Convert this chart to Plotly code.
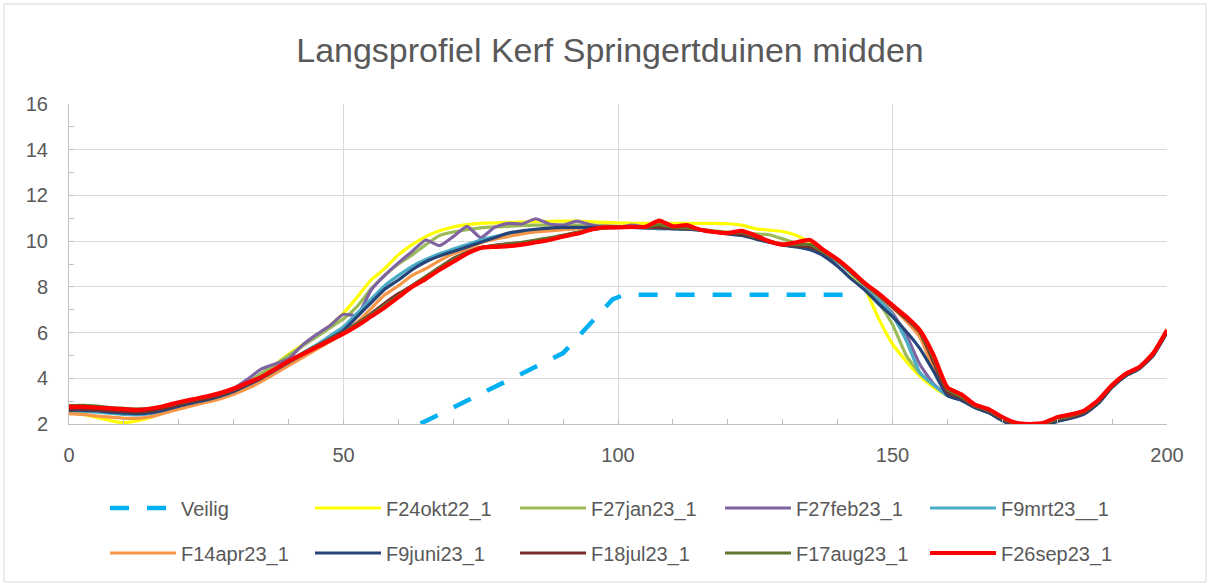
import plotly.graph_objects as go

# distance along profile (m)
AFSTAND = [0, 2.5, 5, 7.5, 10, 12.5, 15, 17.5, 20, 22.5, 25, 27.5, 30, 32.5, 35, 37.5,
           40, 42.5, 45, 47.5, 50, 52.5, 55, 57.5, 60, 62.5, 65, 67.5, 70, 72.5, 75, 77.5,
           80, 82.5, 85, 87.5, 90, 92.5, 95, 97.5, 100, 102.5, 105, 107.5, 110, 112.5, 115,
           117.5, 120, 122.5, 125, 127.5, 130, 132.5, 135, 137.5, 140, 142.5, 145, 147.5,
           150, 152.5, 155, 157.5, 160, 162.5, 165, 167.5, 170, 172.5, 175, 177.5, 180,
           182.5, 185, 187.5, 190, 192.5, 195, 197.5, 200]

VEILIG_X = [58, 90, 99, 101, 144]
VEILIG_Y = [1.3, 5.1, 7.45, 7.65, 7.65]

F24OKT22 = [2.50, 2.42, 2.30, 2.15, 2.05,
            2.15, 2.30, 2.50, 2.68, 2.85, 3.00, 3.18, 3.40,
            3.75, 4.15, 4.60, 5.05, 5.45, 5.85, 6.30, 6.85,
            7.55, 8.30, 8.80, 9.40, 9.85, 10.20, 10.45, 10.62,
            10.72, 10.78, 10.80, 10.82, 10.83, 10.85, 10.87, 10.88,
            10.88, 10.85, 10.82, 10.80, 10.78, 10.78, 10.78, 10.78,
            10.78, 10.78, 10.78, 10.76, 10.70, 10.55, 10.48, 10.42,
            10.25, 9.95, 9.60, 9.20, 8.55, 7.90, 6.60, 5.50,
            4.75, 4.10, 3.60, 3.25, 3.05, 2.72, 2.50, 2.15,
            1.90, 1.85, 1.90, 2.12, 2.28, 2.48, 2.95, 3.62,
            4.12, 4.45, 5.05, 6.05]

F27JAN23 = [2.80, 2.80, 2.75, 2.68, 2.60,
            2.55, 2.58, 2.70, 2.85, 3.00, 3.12, 3.28, 3.50,
            3.82, 4.20, 4.60, 5.00, 5.40, 5.80, 6.20, 6.60,
            7.15, 7.90, 8.50, 9.00, 9.40, 9.85, 10.25, 10.40,
            10.50, 10.58, 10.62, 10.65, 10.68, 10.70, 10.70, 10.70,
            10.70, 10.70, 10.68, 10.65, 10.62, 10.60, 10.58, 10.55,
            10.55, 10.52, 10.45, 10.40, 10.38, 10.32, 10.28, 10.10,
            9.90, 9.75, 9.45, 9.10, 8.60, 8.00, 7.30, 6.35,
            5.00, 4.20, 3.70, 3.25, 3.05, 2.72, 2.52, 2.18,
            1.92, 1.88, 1.92, 2.15, 2.30, 2.50, 2.96, 3.64,
            4.14, 4.46, 5.06, 6.06]

F27FEB23 = [2.62, 2.60, 2.55, 2.50, 2.45,
            2.45, 2.50, 2.62, 2.78, 2.92, 3.05, 3.22, 3.55,
            3.95, 4.40, 4.62, 4.85, 5.45, 5.90, 6.30, 6.80,
            6.75, 7.85, 8.50, 9.05, 9.55, 10.05, 9.80, 10.20,
            10.65, 10.15, 10.60, 10.78, 10.75, 10.98, 10.75, 10.70,
            10.88, 10.72, 10.62, 10.60, 10.70, 10.62, 10.55, 10.55,
            10.52, 10.48, 10.40, 10.35, 10.30, 10.15, 10.00, 9.85,
            9.78, 9.70, 9.45, 9.10, 8.60, 8.05, 7.45, 6.85,
            5.90, 4.60, 3.75, 3.25, 3.05, 2.72, 2.50, 2.15,
            1.90, 1.85, 1.90, 2.12, 2.28, 2.48, 2.95, 3.62,
            4.12, 4.45, 5.05, 6.05]

F9MRT23 = [2.55, 2.55, 2.52, 2.48, 2.42,
           2.40, 2.45, 2.58, 2.75, 2.90, 3.02, 3.20, 3.40,
           3.68, 4.00, 4.35, 4.72, 5.10, 5.45, 5.85, 6.25,
           6.85, 7.45, 8.05, 8.50, 8.90, 9.20, 9.45, 9.65,
           9.85, 10.05, 10.20, 10.32, 10.40, 10.45, 10.50, 10.52,
           10.55, 10.58, 10.60, 10.60, 10.60, 10.58, 10.55, 10.55,
           10.52, 10.48, 10.40, 10.35, 10.28, 10.12, 9.98, 9.85,
           9.78, 9.70, 9.45, 9.10, 8.60, 8.05, 7.45, 6.75,
           5.65, 4.25, 3.70, 3.25, 3.05, 2.72, 2.50, 2.15,
           1.90, 1.85, 1.90, 2.12, 2.28, 2.48, 2.95, 3.62,
           4.12, 4.45, 5.05, 6.05]

F14APR23 = [2.45, 2.42, 2.35, 2.30, 2.25,
            2.25, 2.32, 2.48, 2.65, 2.80, 2.95, 3.10, 3.30,
            3.55, 3.85, 4.20, 4.55, 4.90, 5.25, 5.60, 5.95,
            6.45, 7.05, 7.65, 8.05, 8.50, 8.80, 9.15, 9.45,
            9.65, 9.92, 10.08, 10.20, 10.32, 10.40, 10.45, 10.50,
            10.55, 10.58, 10.60, 10.60, 10.60, 10.60, 10.60, 10.58,
            10.55, 10.50, 10.42, 10.35, 10.30, 10.15, 10.00, 9.88,
            9.82, 9.75, 9.50, 9.15, 8.65, 8.10, 7.60, 7.08,
            6.50, 5.80, 4.40, 3.30, 3.10, 2.78, 2.58, 2.22,
            1.98, 1.92, 1.98, 2.20, 2.35, 2.55, 3.00, 3.68,
            4.20, 4.50, 5.12, 6.15]

F9JUNI23 = [2.60, 2.60, 2.58, 2.52, 2.48,
            2.45, 2.50, 2.62, 2.78, 2.92, 3.05, 3.22, 3.42,
            3.70, 4.00, 4.35, 4.70, 5.05, 5.38, 5.72, 6.10,
            6.70, 7.30, 7.90, 8.30, 8.75, 9.10, 9.35, 9.55,
            9.75, 9.95, 10.15, 10.35, 10.45, 10.52, 10.57, 10.60,
            10.60, 10.60, 10.60, 10.60, 10.60, 10.58, 10.58, 10.55,
            10.52, 10.48, 10.40, 10.32, 10.25, 10.10, 9.95, 9.82,
            9.75, 9.62, 9.35, 8.90, 8.35, 7.85, 7.25, 6.70,
            6.05, 5.30, 4.30, 3.25, 3.05, 2.72, 2.50, 2.15,
            1.90, 1.85, 1.90, 2.12, 2.25, 2.45, 2.90, 3.60,
            4.10, 4.42, 5.00, 6.00]

F18JUL23 = [2.65, 2.65, 2.62, 2.58, 2.55,
            2.52, 2.58, 2.70, 2.85, 3.00, 3.12, 3.28, 3.48,
            3.75, 4.05, 4.40, 4.75, 5.08, 5.40, 5.72, 6.02,
            6.40, 6.82, 7.28, 7.70, 8.05, 8.45, 8.85, 9.25,
            9.50, 9.72, 9.82, 9.88, 9.93, 10.00, 10.10, 10.25,
            10.38, 10.50, 10.58, 10.60, 10.60, 10.60, 10.60, 10.58,
            10.55, 10.50, 10.42, 10.35, 10.30, 10.15, 9.98, 9.85,
            9.80, 9.75, 9.50, 9.15, 8.65, 8.10, 7.62, 7.12,
            6.60, 6.00, 4.70, 3.40, 3.15, 2.78, 2.58, 2.22,
            1.98, 1.92, 1.98, 2.20, 2.32, 2.52, 2.98, 3.65,
            4.15, 4.45, 5.05, 6.05]

F17AUG23 = [2.80, 2.82, 2.78, 2.72, 2.68,
            2.65, 2.68, 2.78, 2.92, 3.05, 3.18, 3.33, 3.52,
            3.78, 4.05, 4.40, 4.75, 5.08, 5.40, 5.70, 6.00,
            6.38, 6.78, 7.20, 7.62, 8.05, 8.45, 8.85, 9.20,
            9.50, 9.72, 9.80, 9.88, 9.95, 10.05, 10.15, 10.25,
            10.38, 10.50, 10.58, 10.60, 10.60, 10.60, 10.72, 10.60,
            10.58, 10.50, 10.40, 10.35, 10.38, 10.20, 10.00, 9.85,
            9.85, 9.85, 9.50, 9.15, 8.65, 8.10, 7.65, 7.15,
            6.65, 6.05, 4.85, 3.50, 3.20, 2.80, 2.60, 2.25,
            2.00, 1.95, 2.00, 2.22, 2.35, 2.55, 3.00, 3.68,
            4.18, 4.48, 5.08, 6.08]

F26SEP23 = [2.75, 2.75, 2.72, 2.68, 2.65,
            2.62, 2.68, 2.80, 2.95, 3.08, 3.20, 3.35, 3.55,
            3.80, 4.05, 4.40, 4.75, 5.05, 5.35, 5.65, 5.95,
            6.30, 6.70, 7.10, 7.55, 8.00, 8.35, 8.75, 9.10,
            9.45, 9.70, 9.75, 9.78, 9.85, 9.95, 10.05, 10.20,
            10.32, 10.50, 10.60, 10.60, 10.62, 10.63, 10.90, 10.65,
            10.70, 10.50, 10.40, 10.35, 10.45, 10.25, 10.00, 9.85,
            9.95, 10.05, 9.60, 9.20, 8.70, 8.15, 7.70, 7.20,
            6.70, 6.10, 5.00, 3.60, 3.30, 2.85, 2.65, 2.30,
            2.05, 2.00, 2.05, 2.30, 2.42, 2.60, 3.05, 3.70,
            4.20, 4.50, 5.10, 6.10]

SERIES = [
    ("F24okt22_1", F24OKT22, "#FFFF00", 3.2, "legend"),
    ("F27jan23_1", F27JAN23, "#9BBB59", 3.2, "legend"),
    ("F27feb23_1", F27FEB23, "#8064A2", 3.2, "legend"),
    ("F9mrt23__1", F9MRT23, "#4BACC6", 3.2, "legend"),
    ("F14apr23_1", F14APR23, "#F79646", 3.2, "legend2"),
    ("F9juni23_1", F9JUNI23, "#264478", 3.2, "legend2"),
    ("F18jul23_1", F18JUL23, "#772C2A", 3.2, "legend2"),
    ("F17aug23_1", F17AUG23, "#5F7530", 3.2, "legend2"),
    ("F26sep23_1", F26SEP23, "#FF0000", 4.2, "legend2"),
]

TITLE = "Langsprofiel Kerf Springertduinen midden"
FONT = "Liberation Sans"
TXT = "#595959"

fig = go.Figure()
fig.add_trace(go.Scatter(x=VEILIG_X, y=VEILIG_Y, name="Veilig", mode="lines",
                         line=dict(color="#00B0F0", width=4.5, dash="19px,18px"),
                         legend="legend"))
for name, ys, color, w, leg in SERIES:
    fig.add_trace(go.Scatter(x=AFSTAND, y=ys, name=name, mode="lines",
                             line=dict(color=color, width=w, shape="spline", smoothing=0.5),
                             legend=leg))

W, H = 1211, 586
ML, MR, MT, MB = 69, 44, 104, 162
PW, PH = W - ML - MR, H - MT - MB


def px_x(p):
    return (p - ML) / PW


def px_y(p):
    return (H - MB - p) / PH


legend_common = dict(orientation="h", xanchor="left", yanchor="middle",
                     font=dict(family=FONT, size=20, color=TXT),
                     entrywidth=124, entrywidthmode="pixels", itemwidth=66,
                     bgcolor="rgba(0,0,0,0)", traceorder="normal")

fig.update_layout(
    width=W, height=H,
    margin=dict(l=ML, r=MR, t=MT, b=MB, autoexpand=False),
    paper_bgcolor="white", plot_bgcolor="white",
    title=dict(text=TITLE, x=610 / W, xanchor="center", y=1 - 50 / H, yanchor="middle",
               font=dict(family=FONT, size=34, color=TXT)),
    legend=dict(x=px_x(105), y=px_y(508), **legend_common),
    legend2=dict(x=px_x(105), y=px_y(553), **legend_common),
    xaxis=dict(range=[0, 200], dtick=50, tick0=0, showgrid=True, gridcolor="#D9D9D9",
               gridwidth=1, zeroline=False, showline=True, linecolor="#BFBFBF", linewidth=1,
               ticks="inside", ticklen=5, tickcolor="#BFBFBF",
               minor=dict(dtick=10, ticks="inside", ticklen=5, tickcolor="#BFBFBF", showgrid=False),
               tickfont=dict(family=FONT, size=20, color=TXT), ticklabelstandoff=13),
    yaxis=dict(range=[2, 16], dtick=2, tick0=0, showgrid=True, gridcolor="#D9D9D9",
               gridwidth=1, zeroline=False, showline=True, linecolor="#BFBFBF", linewidth=1,
               ticks="inside", ticklen=5, tickcolor="#BFBFBF",
               minor=dict(dtick=1, ticks="inside", ticklen=5, tickcolor="#BFBFBF", showgrid=False),
               tickfont=dict(family=FONT, size=20, color=TXT), ticklabelstandoff=16),
    shapes=[dict(type="rect", xref="paper", yref="paper",
                 x0=px_x(4), x1=px_x(1206), y0=px_y(582), y1=px_y(4),
                 line=dict(color="#D9D9D9", width=1), fillcolor="rgba(0,0,0,0)", layer="below")],
)

fig.write_html("out.html", config={"displayModeBar": False},
               post_script="document.body.style.margin='0';document.body.style.overflow='hidden';")
